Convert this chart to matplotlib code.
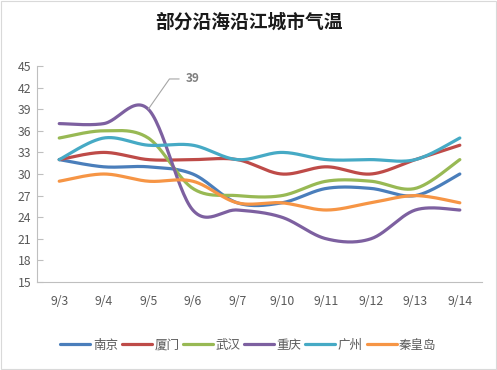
import matplotlib
matplotlib.use("Agg")
import matplotlib.pyplot as plt
import numpy as np

plt.rcParams["font.family"] = ["Noto Sans CJK SC", "DejaVu Sans"]

# 数据
dates = ["9/3", "9/4", "9/5", "9/6", "9/7", "9/10", "9/11", "9/12", "9/13", "9/14"]
cities = ["南京", "厦门", "武汉", "重庆", "广州", "秦皇岛"]
nanjing = [32, 31, 31, 30, 26, 26, 28, 28, 27, 30]
xiamen = [32, 33, 32, 32, 32, 30, 31, 30, 32, 34]
wuhan = [35, 36, 35, 28, 27, 27, 29, 29, 28, 32]
chongqing = [37, 37, 39, 25, 25, 24, 21, 21, 25, 25]
guangzhou = [32, 35, 34, 34, 32, 33, 32, 32, 32, 35]
qinhuangdao = [29, 30, 29, 29, 26, 26, 25, 26, 27, 26]
series = [nanjing, xiamen, wuhan, chongqing, guangzhou, qinhuangdao]
colors = ["#4a7ebb", "#be4b48", "#98b954", "#7d60a0", "#46aac5", "#f69545"]

TEXT = "#595959"
AXIS = "#bfbfbf"


def smooth(y, n=30):
    # Excel 风格平滑线 (Catmull-Rom / Bezier)
    y = np.asarray(y, float)
    x = np.arange(len(y), dtype=float)
    p = np.column_stack([x, y])
    pts = []
    t = np.linspace(0, 1, n)
    for i in range(len(p) - 1):
        p0 = p[i - 1] if i > 0 else p[i]
        p1, p2 = p[i], p[i + 1]
        p3 = p[i + 2] if i + 2 < len(p) else p[i + 1]
        c1 = p1 + (p2 - p0) / 6
        c2 = p2 - (p3 - p1) / 6
        tt = t[:, None]
        seg = ((1 - tt) ** 3) * p1 + 3 * ((1 - tt) ** 2) * tt * c1 \
            + 3 * (1 - tt) * tt ** 2 * c2 + tt ** 3 * p2
        pts.append(seg if i == 0 else seg[1:])
    s = np.vstack(pts)
    return s[:, 0], s[:, 1]


fig = plt.figure(figsize=(4.97, 3.70), dpi=100)
ax = fig.add_axes([0.0744, 0.2378, 0.8956, 0.5838])

for vals, c, name in zip(series, colors, cities):
    sx, sy = smooth(vals)
    ax.plot(sx, sy, color=c, lw=2.3, label=name, solid_capstyle="round")

ax.set_xlim(-0.5, len(dates) - 0.5)
ax.set_ylim(15, 45)
ax.set_yticks(np.arange(15, 46, 3))
ax.set_xticks(np.arange(len(dates)))
ax.set_xticklabels(dates)
ax.tick_params(axis="y", direction="in", length=4, color=AXIS, labelsize=8.8, labelcolor=TEXT, pad=4)
ax.tick_params(axis="x", length=0, labelsize=8.8, labelcolor=TEXT, pad=9)
for s in ["top", "right"]:
    ax.spines[s].set_visible(False)
ax.spines["left"].set_color(AXIS)
ax.spines["bottom"].set_color(AXIS)
ax.spines["bottom"].set_linestyle((0, (2, 1)))

# 峰值标注
peak_i = int(np.argmax(chongqing))
ax.annotate(str(chongqing[peak_i]), xy=(peak_i, chongqing[peak_i]),
            xytext=(peak_i + 0.85, 43.2), color="#7f7f7f", fontsize=8.5, fontweight="bold",
            va="center", ha="left",
            arrowprops=dict(arrowstyle="-", color="#a6a6a6", lw=0.8,
                            connectionstyle="angle,angleA=0,angleB=55,rad=0",
                            shrinkA=3, shrinkB=0))

fig.text(0.5, 0.94, "部分沿海沿江城市气温", ha="center", va="center",
         fontsize=13.5, fontweight="bold", color="#1a1a1a")

fig.legend(loc="center", bbox_to_anchor=(0.5, 0.067), ncol=6, frameon=False,
           fontsize=9, handlelength=2.4, handletextpad=0.2, columnspacing=0.3,
           labelcolor=TEXT)

fig.patches.append(plt.Rectangle((0.002, 0.003), 0.995, 0.994, transform=fig.transFigure,
                                 fill=False, edgecolor="#d9d9d9", lw=0.8))

fig.savefig("out.png", dpi=100)
